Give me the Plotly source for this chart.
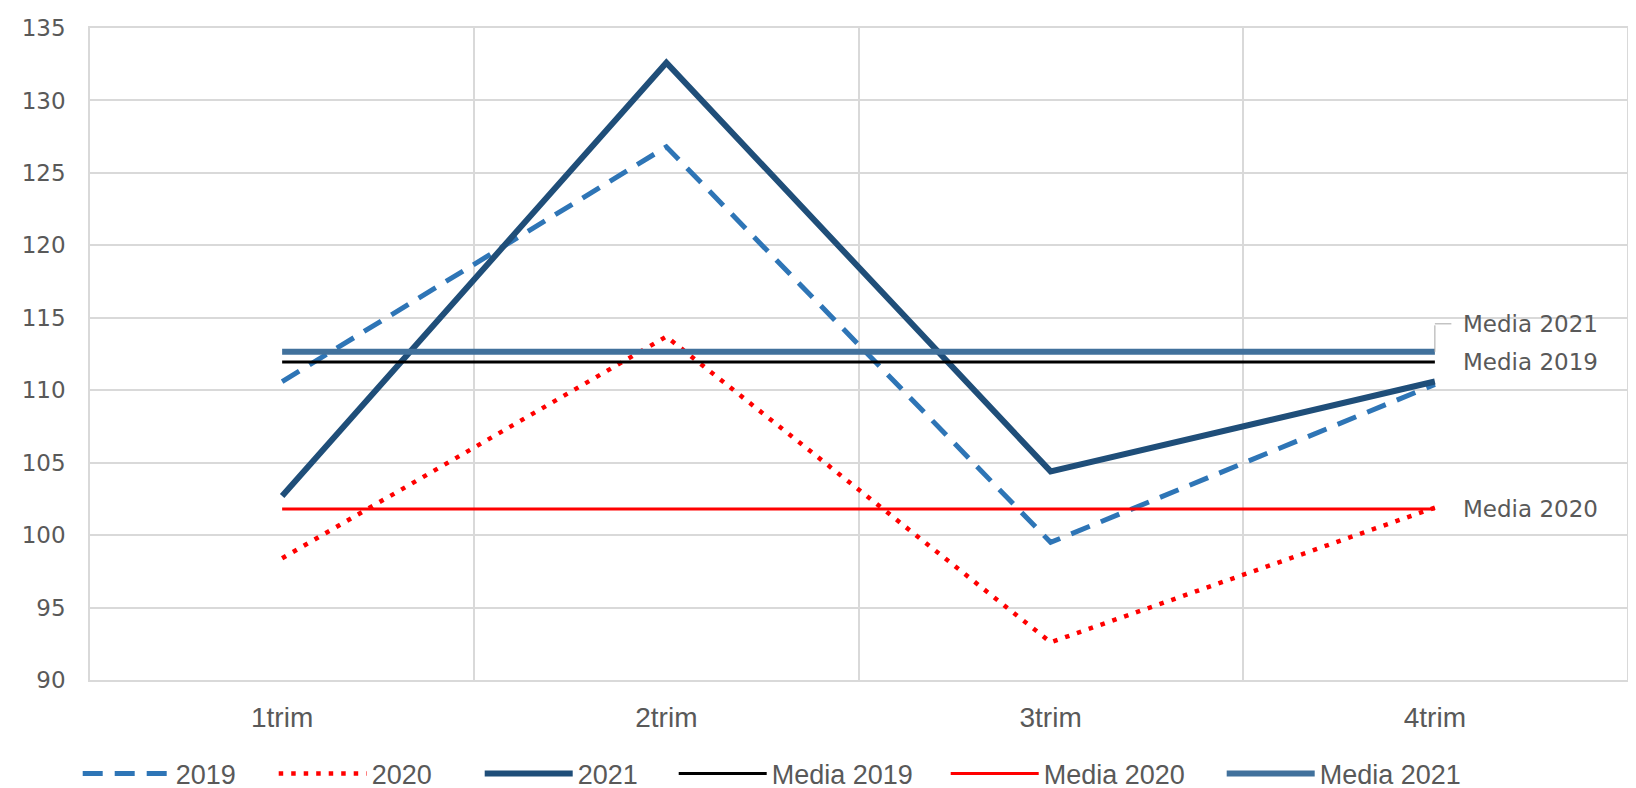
import plotly.graph_objects as go

categories = ["1trim", "2trim", "3trim", "4trim"]
s2019 = [110.6, 126.8, 99.5, 110.4]
s2020 = [98.4, 113.7, 92.6, 101.9]
s2021 = [102.7, 132.6, 104.4, 110.6]
media2019 = [111.95] * 4
media2020 = [101.8] * 4
media2021 = [112.65] * 4

y_ticks = [90, 95, 100, 105, 110, 115, 120, 125, 130, 135]

C2019 = "#2E75B6"
C2020 = "#FF0000"
C2021 = "#1F4E79"
CM2019 = "#000000"
CM2020 = "#FF0000"
CM2021 = "#41719C"
TXT = "#595959"
GRID = "#D9D9D9"
NARROW = "Liberation Sans Narrow, Liberation Sans, Arial, sans-serif"
WIDE = "DejaVu Sans, Verdana, sans-serif"

fig = go.Figure()
fig.add_trace(go.Scatter(x=categories, y=s2019, name="2019", mode="lines",
                         legendwidth=93,
                         line=dict(color=C2019, width=5, dash="20px,12px")))
fig.add_trace(go.Scatter(x=categories, y=s2020, name="2020", mode="lines",
                         legendwidth=103,
                         line=dict(color=C2020, width=4.5, dash="4.5px,8px")))
fig.add_trace(go.Scatter(x=categories, y=s2021, name="2021", mode="lines",
                         legendwidth=91,
                         line=dict(color=C2021, width=6)))
fig.add_trace(go.Scatter(x=categories, y=media2019, name="Media 2019", mode="lines",
                         legendwidth=169,
                         line=dict(color=CM2019, width=3)))
fig.add_trace(go.Scatter(x=categories, y=media2020, name="Media 2020", mode="lines",
                         legendwidth=173,
                         line=dict(color=CM2020, width=3)))
fig.add_trace(go.Scatter(x=categories, y=media2021, name="Media 2021", mode="lines",
                         legendwidth=173,
                         line=dict(color=CM2021, width=6)))

last = categories[-1]
# data labels
fig.add_annotation(x=last, y=media2021[-1], text="Media 2021", showarrow=False,
                   xanchor="left", xshift=26, yshift=28,
                   font=dict(family=WIDE, size=23, color=TXT))
fig.add_annotation(x=last, y=media2019[-1], text="Media 2019", showarrow=False,
                   xanchor="left", xshift=26,
                   font=dict(family=WIDE, size=23, color=TXT))
fig.add_annotation(x=last, y=media2020[-1], text="Media 2020", showarrow=False,
                   xanchor="left", xshift=26,
                   font=dict(family=WIDE, size=23, color=TXT))
# leader line (elbow) for Media 2021
fig.add_annotation(x=last, y=media2021[-1], text="", showarrow=True, arrowhead=0,
                   arrowwidth=1, arrowcolor="#A6A6A6", ax=0, ay=-28, standoff=0,
                   startstandoff=0)
fig.add_annotation(x=last, y=media2021[-1], yshift=28, text="", showarrow=True,
                   arrowhead=0, arrowwidth=1, arrowcolor="#A6A6A6", ax=18, ay=0,
                   standoff=0, startstandoff=0)

fig.update_layout(
    width=1636, height=788,
    margin=dict(l=82, r=17, t=20, b=116, autoexpand=False),
    paper_bgcolor="white", plot_bgcolor="white",
    showlegend=True,
    legend=dict(orientation="h", x=-0.008, xanchor="left",
                y=-0.144, yanchor="middle",
                font=dict(family=NARROW, size=27, color=TXT),
                itemwidth=88, tracegroupgap=0),
    xaxis=dict(type="category", categoryorder="array", categoryarray=categories,
               range=[-0.5, 3.5], tickson="boundaries", showgrid=True,
               gridcolor=GRID, gridwidth=1.5, showline=True, linecolor=GRID,
               linewidth=1.5, mirror=True, ticks="", zeroline=False,
               tickfont=dict(family=NARROW, size=28, color=TXT), ticklabelstandoff=12),
    yaxis=dict(range=[90, 135], tickvals=y_ticks, showgrid=True, gridcolor=GRID,
               gridwidth=1.5, showline=True, linecolor=GRID, linewidth=1.5,
               mirror=True, ticks="", zeroline=False,
               tickfont=dict(family=WIDE, size=23, color=TXT), ticklabelstandoff=18),
)

fig.write_html("out.html")
